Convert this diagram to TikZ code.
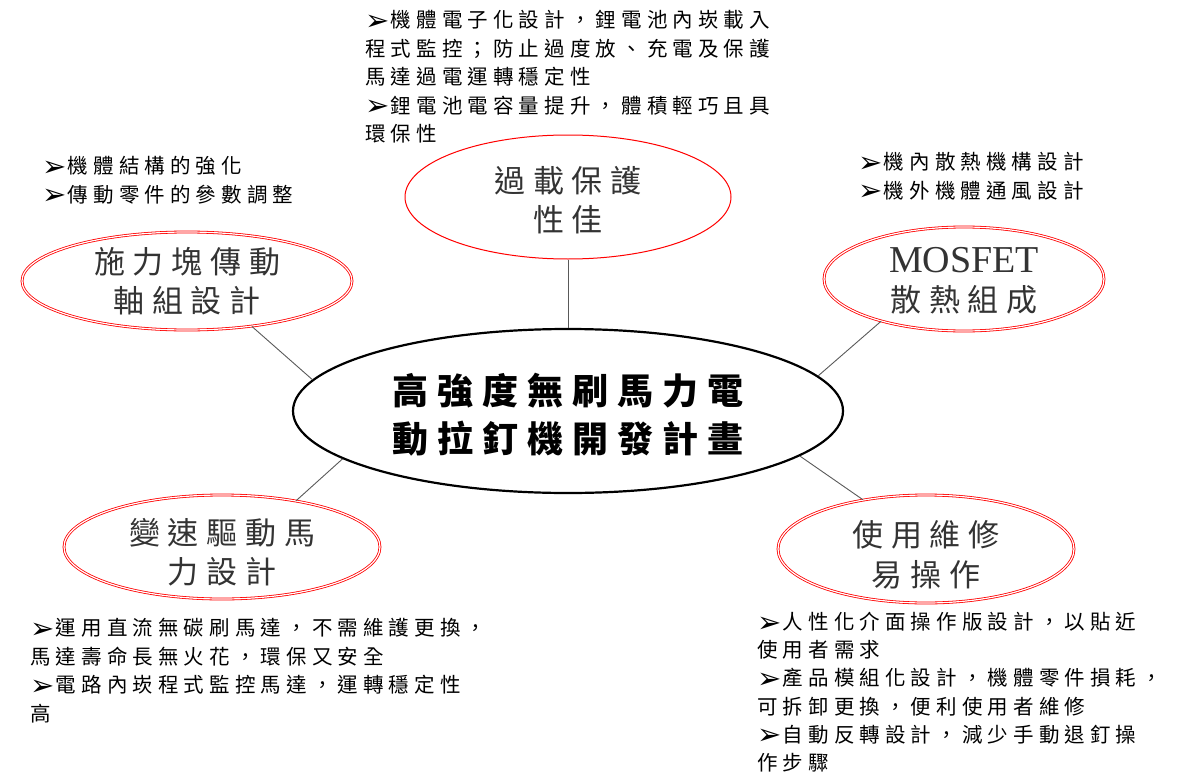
\documentclass[tikz,border=0pt]{standalone}
\usepackage{fontspec}
\setmainfont{Liberation Serif}
\newfontfamily\cjk[LetterSpace=25]{Noto Sans CJK TC}
\newfontfamily\dejavu{DejaVu Sans}
\newfontfamily\mosfont{Liberation Serif}
\usetikzlibrary{shapes.geometric}
\newcommand\bul{\makebox[1.25em][l]{\raisebox{-2.5pt}[0pt][0pt]{\dejavu\fontsize{29}{29}\selectfont ➢}}}
\tikzset{
  topicshape/.style={ellipse, draw=red, double=white, double distance=1.2pt, line width=0.8pt, inner sep=0pt},
  singleshape/.style={ellipse, draw=red, line width=1pt, inner sep=0pt},
  mainshape/.style={ellipse, draw=black, line width=2.2pt, inner sep=0pt},
  topictext/.style={inner sep=0pt, align=center, text=black!80, font=\cjk\fontsize{31}{39.5}\selectfont},
  maintext/.style={inner sep=0pt, align=center, text=black, font=\cjk\bfseries\fontsize{36}{48}\selectfont},
  link/.style={draw=black!65, line width=0.9pt},
  note/.style={anchor=north west, inner sep=0pt, align=left, text=black, font=\cjk\fontsize{20.5}{28.6}\selectfont}
}
\begin{document}
\begin{tikzpicture}[x=1pt,y=-1pt]
\useasboundingbox (0,0) rectangle (1177,773);
% central
\node[mainshape, minimum width=550pt, minimum height=164pt] (C) at (568,411) {};
\node[maintext] (Ct) at ([yshift=-4pt]C.center) {高強度無刷馬力電\\動拉釘機開發計畫};
% topics
\node[singleshape, minimum width=326pt, minimum height=124pt] (T) at (568,197) {};
\node[topictext] (Tt) at ([yshift=-3pt]T.center) {過載保護\\性佳};
\node[topicshape, minimum width=330pt, minimum height=98pt] (A) at (187,281) {};
\node[topictext] (At) at (A.center) {施力塊傳動\\軸組設計};
\node[topicshape, minimum width=280pt, minimum height=104pt] (D) at (964,279) {};
\node[topictext] (Dt) at ([yshift=-2pt]D.center) {{\mosfont\fontsize{38}{39.5}\selectfont MOSFET}\\散熱組成};
\node[topicshape, minimum width=316pt, minimum height=104pt] (E) at (222,547) {};
\node[topictext] (Et) at ([yshift=-5pt]E.center) {變速驅動馬\\力設計};
\node[topicshape, minimum width=296pt, minimum height=108pt] (F) at (926,549) {};
\node[topictext] (Ft) at ([yshift=-6pt]F.center) {使用維修\\易操作};
% connectors
\draw[link] (T.south) -- (C.north);
\draw[link] (A.-35) -- (C.173);
\draw[link] (D.-153) -- (C.8);
\draw[link] (E.32) -- (C.192);
\draw[link] (F.142) -- (C.-11);
% notes
\node[note] (n1) at (365,10) {\bul 機體電子化設計，鋰電池內崁載入\\程式監控；防止過度放、充電及保護\\馬達過電運轉穩定性\\\bul 鋰電池電容量提升，體積輕巧且具\\環保性};
\node[note] (n2) at (42,156) {\bul 機體結構的強化\\\bul 傳動零件的參數調整};
\node[note] (n3) at (858,152) {\bul 機內散熱機構設計\\\bul 機外機體通風設計};
\node[note] (n4) at (30,618) {\bul 運用直流無碳刷馬達，不需維護更換，\\馬達壽命長無火花，環保又安全\\\bul 電路內崁程式監控馬達，運轉穩定性\\高};
\node[note, font=\cjk\fontsize{20.5}{28.2}\selectfont] (n5) at (757,612) {\bul 人性化介面操作版設計，以貼近\\使用者需求\\\bul 產品模組化設計，機體零件損耗，\\可拆卸更換，便利使用者維修\\\bul 自動反轉設計，減少手動退釘操\\作步驟};
\end{tikzpicture}
\end{document}
